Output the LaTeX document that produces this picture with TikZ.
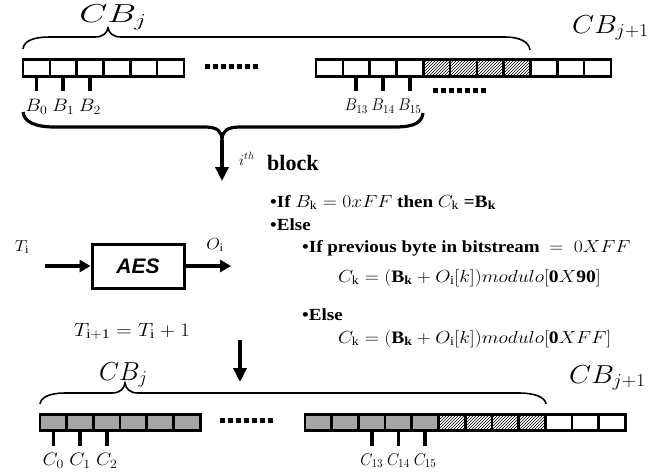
\RequirePackage{fix-cm}
\documentclass[tikz,border=0pt]{standalone}
\usepackage{fontspec}
\setmainfont{LiberationSerif}[Extension=.ttf,UprightFont=*-Regular,BoldFont=*-Bold,ItalicFont=*-Italic,BoldItalicFont=*-BoldItalic]
\newfontfamily\aesfont{LiberationSans}[Extension=.ttf,UprightFont=*-Regular,BoldFont=*-Bold,ItalicFont=*-Italic,BoldItalicFont=*-BoldItalic]
\usetikzlibrary{arrows.meta,patterns}
\definecolor{cellgray}{HTML}{A6A6A6}
\newcommand\mm[1]{{\fontsize{17.5}{20}\selectfont$#1$}}
\tikzset{
  cell/.style={draw,line width=2.6pt,minimum width=26.8pt,minimum height=16.5pt,inner sep=0pt,outer sep=0pt},
  graycell/.style={cell,fill=cellgray},
  hatchcell/.style={cell,pattern=north east lines},
  bytetick/.style={line width=3.6pt},
  dotrow/.style={line width=5pt,dash pattern=on 5pt off 3pt},
  thinbrace/.style={line width=1.6pt},
  thickbrace/.style={line width=3.2pt},
  lbl/.style={font=\fontsize{18}{20}\selectfont,inner sep=0pt,xscale=1.1},
  lbltwo/.style={font=\fontsize{17}{20}\selectfont,inner sep=0pt,xscale=0.93},
  cblbl/.style={font=\fontsize{26}{30}\selectfont,inner sep=0pt,anchor=base west},
  rule/.style={font=\fontsize{17}{20}\selectfont\bfseries,inner sep=0pt,anchor=base west,xscale=1.12},
  bigarrow/.style={line width=3.8pt,-{Triangle[length=14pt,width=13pt]}},
  aesarrow/.style={line width=3.4pt,-{Triangle[length=11pt,width=12pt]}},
}
\begin{document}
\begin{tikzpicture}[x=1pt,y=-1pt]
\useasboundingbox (0,0) rectangle (671,475);
% ---------- top row ----------
\foreach \i in {0,...,5} \node[cell] (a\i) at ({23+26.8*(\i+0.5)},68) {};
\foreach \i in {0,1,2,3,8,9,10} \node[cell] (b\i) at ({316+26.8*(\i+0.5)},68) {};
\foreach \i in {4,5,6,7} \node[hatchcell] (b\i) at ({316+26.8*(\i+0.5)},68) {};
\draw[dotrow] (205,66) -- (258,66);
\draw[dotrow] (433,90.5) -- (486,90.5);
% ticks and labels
\draw[bytetick] (a0.south) -- ++(0,15) node[lbl,below=6pt] (lB0) {$B_0$};
\draw[bytetick] (a1.south) -- ++(0,15) node[lbl,below=6pt] (lB1) {$B_1$};
\draw[bytetick] (a2.south) -- ++(0,15) node[lbl,below=6pt] (lB2) {$B_2$};
\draw[bytetick] (b1.south) -- ++(0,15) node[lbltwo,below=6pt] (lB13) {$B_{13}$};
\draw[bytetick] (b2.south) -- ++(0,15) node[lbltwo,below=6pt] (lB14) {$B_{14}$};
\draw[bytetick] (b3.south) -- ++(0,15) node[lbltwo,below=6pt] (lB15) {$B_{15}$};
% braces
\draw[thinbrace] (23,49) .. controls (24,40) and (35,37) .. (50,37) -- (95,37)
  .. controls (103,37) and (107,33) .. (108,28) .. controls (109,33) and (113,37) .. (121,37)
  -- (505,37) .. controls (520,37) and (529,42) .. (530,50);
\node[cblbl,xscale=1.4] (cbj) at (79,22.5) {$CB_j$};
\node[cblbl,xscale=1.1] (cbj1) at (572,33) {$CB_{j+1}$};
\draw[thickbrace] (23,112) .. controls (24,122) and (35,127) .. (55,127) -- (205,127)
  .. controls (217,127) and (222,131) .. (222,140) coordinate (brtip)
  .. controls (222,131) and (227,127) .. (240,127) -- (395,127)
  .. controls (415,127) and (422,122) .. (423,113);
\coordinate (blockend) at (222,181);
\draw[bigarrow] (brtip) -- (blockend);
\node[font=\fontsize{15}{18}\selectfont,inner sep=0pt,anchor=base west] (ith) at (239,165) {$i^{th}$};
\node[font=\fontsize{22}{26}\selectfont\bfseries,inner sep=0pt,anchor=base west] (blk) at (267,170) {block};
% ---------- AES ----------
\node[draw,line width=3pt,minimum width=92pt,minimum height=44pt,inner sep=0pt,
  font=\aesfont\fontsize{21}{24}\selectfont\bfseries\itshape] (aes) at (138,266) {AES};
\coordinate (tin) at (45,266);
\coordinate (oout) at (231,266);
\draw[aesarrow] (tin) -- (aes.west);
\draw[aesarrow] (aes.east) -- (oout);
\node[font=\fontsize{16}{19}\selectfont,inner sep=0pt,xscale=1.1] (ti) at (22,247) {$T_{\mathrm{i}}$};
\node[font=\fontsize{16}{19}\selectfont,inner sep=0pt,xscale=1.1] (oi) at (215,245) {$O_{\mathrm{i}}$};
\node[font=\fontsize{19}{22}\selectfont,inner sep=0pt,anchor=base,xscale=1.14] (tinc) at (132,336) {$T_{\mathrm{i+1}} = T_{\mathrm{i}} + 1$};
% ---------- rules ----------
\node[rule] (r1) at (270,207) {•If \mm{B_{\mathrm{k}} = 0xFF} then \mm{C_{\mathrm{k}}} =\mm{\mathbf{B}_{\mathbf{k}}}};
\node[rule] (r2) at (270,230) {•Else};
\node[rule] (r3) at (302,252) {•If previous byte in bitstream\ \ \mm{=\ 0XFF}};
\node[rule] (r4) at (338,282) {\mm{C_{\mathrm{k}} = (\mathbf{B}_{\mathbf{k}} + O_{\mathrm{i}}[k])modulo[\mathbf{0}X\mathbf{90}]}};
\node[rule] (r5) at (302,320) {•Else};
\node[rule] (r6) at (338,343) {\mm{C_{\mathrm{k}} = (\mathbf{B}_{\mathbf{k}} + O_{\mathrm{i}}[k])modulo[\mathbf{0}XFF]}};
\coordinate (d1) at (240,340);
\coordinate (d2) at (240,382);
\draw[bigarrow] (d1) -- (d2);
% ---------- bottom row ----------
\foreach \i in {0,...,5} \node[graycell] (c\i) at ({40+26.7*(\i+0.5)},422.5) {};
\foreach \i in {0,...,4} \node[graycell] (d\i) at ({305+26.7*(\i+0.5)},422.5) {};
\foreach \i in {5,...,8} \node[hatchcell] (d\i) at ({305+26.7*(\i+0.5)},422.5) {};
\foreach \i in {9,10,11} \node[cell] (d\i) at ({305+26.7*(\i+0.5)},422.5) {};
\draw[dotrow] (220,420) -- (273,420);
\draw[bytetick] (c0.south) -- ++(0,15) node[lbl,below=6pt] (lC0) {$C_0$};
\draw[bytetick] (c1.south) -- ++(0,15) node[lbl,below=6pt] (lC1) {$C_1$};
\draw[bytetick] (c2.south) -- ++(0,15) node[lbl,below=6pt] (lC2) {$C_2$};
\draw[bytetick] (d2.south) -- ++(0,15) node[lbltwo,below=6pt] (lC13) {$C_{13}$};
\draw[bytetick] (d3.south) -- ++(0,15) node[lbltwo,below=6pt] (lC14) {$C_{14}$};
\draw[bytetick] (d4.south) -- ++(0,15) node[lbltwo,below=6pt] (lC15) {$C_{15}$};
\draw[thinbrace] (40,404) .. controls (41,397) and (50,393) .. (65,393) -- (112,393)
  .. controls (120,393) and (124,389) .. (125,383) .. controls (126,389) and (130,393) .. (138,393)
  -- (518,393) .. controls (535,393) and (545,397) .. (546,404);
\node[cblbl] (cbjb) at (99,380) {$CB_j$};
\node[cblbl,xscale=1.1] (cbj1b) at (569,383) {$CB_{j+1}$};
\end{tikzpicture}
\end{document}
